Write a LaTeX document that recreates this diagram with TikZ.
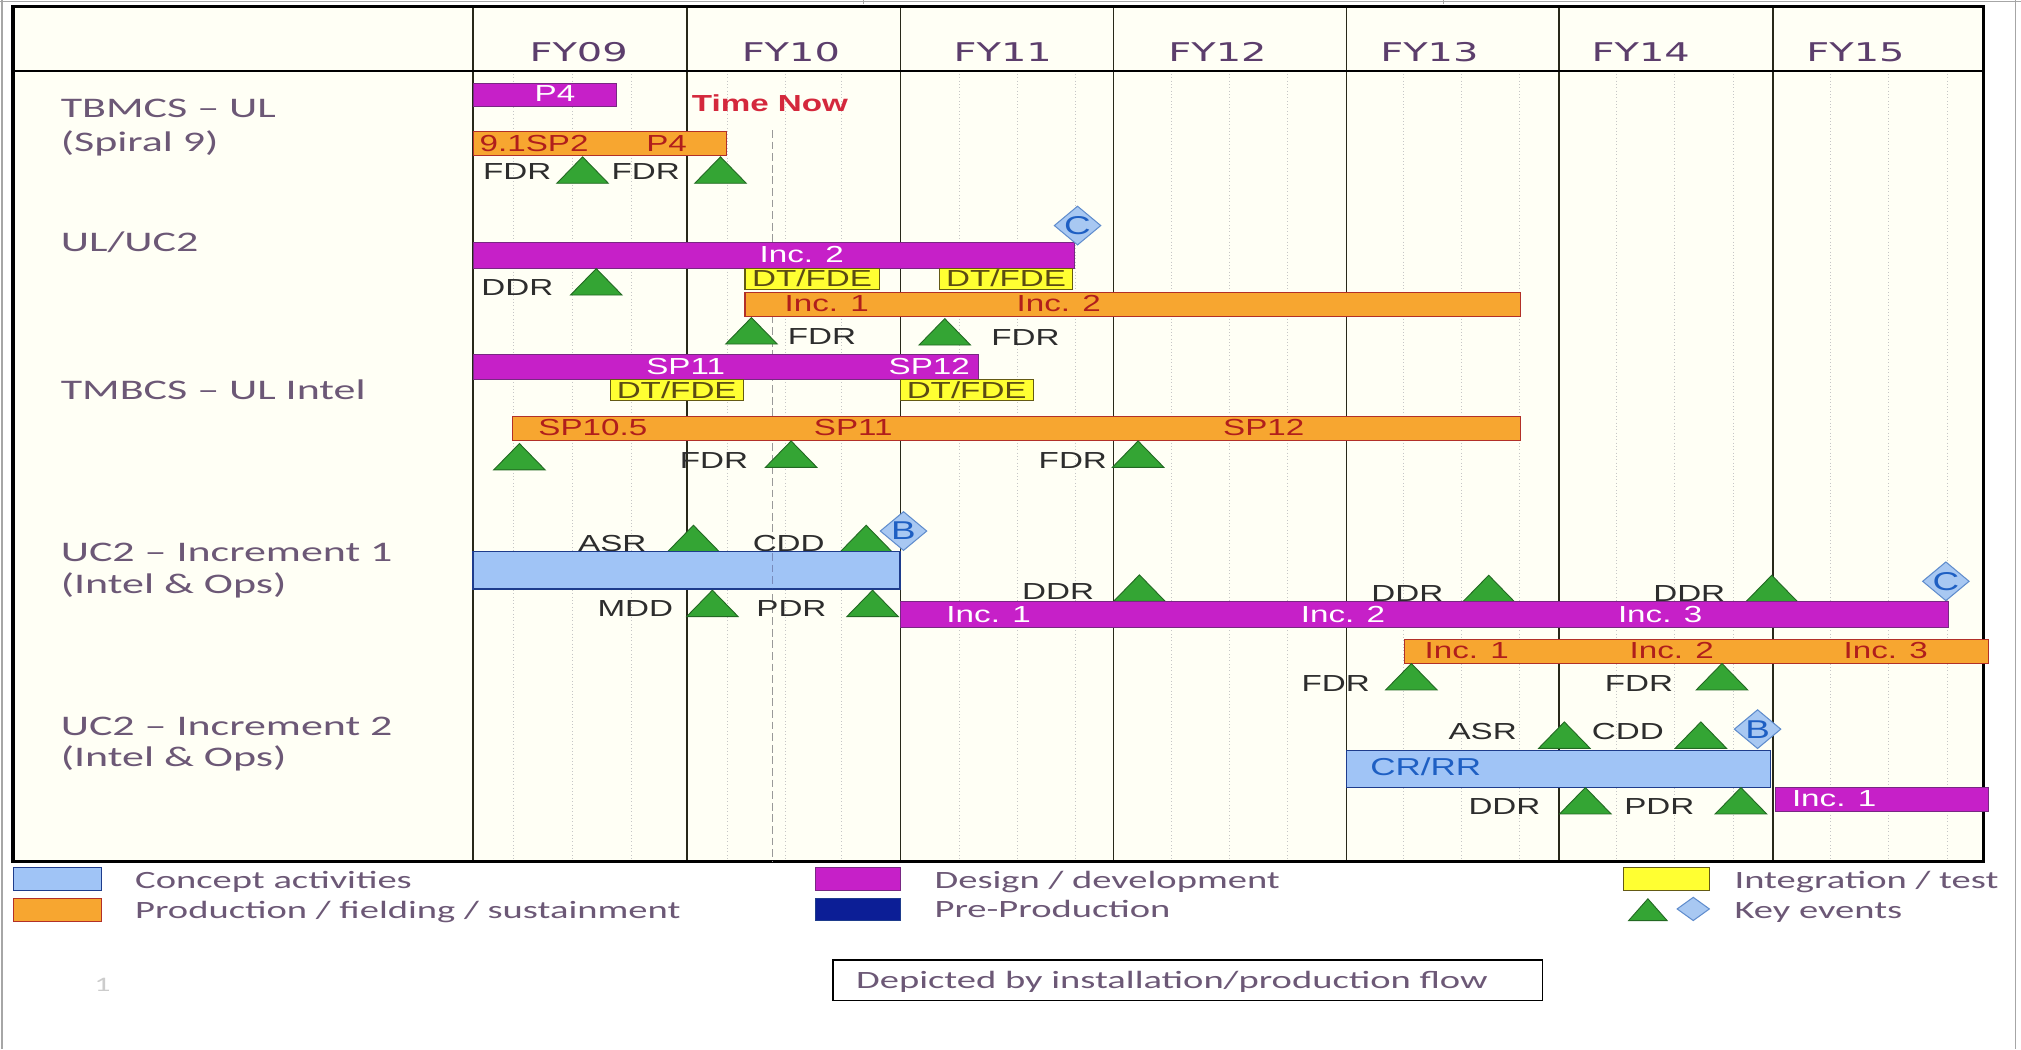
\documentclass[tikz,border=0pt]{standalone}
\usepackage{fontspec}
\setmainfont{Carlito}
\newfontfamily\rowfont{Carlito}[FakeStretch=1.55]
\newfontfamily\barfont{Liberation Sans}[FakeStretch=1.43]
\newfontfamily\yrfont{DejaVu Sans}[FakeStretch=1.55]

\definecolor{chartbg}{RGB}{255,255,245}
\definecolor{rowtxt}{RGB}{108,88,118}
\definecolor{yrtxt}{RGB}{92,62,108}
\definecolor{magfill}{RGB}{198,32,200}
\definecolor{magline}{RGB}{120,40,130}
\definecolor{orgfill}{RGB}{247,166,48}
\definecolor{orgline}{RGB}{178,48,40}
\definecolor{orgtxt}{RGB}{176,30,28}
\definecolor{blufill}{RGB}{160,196,246}
\definecolor{bluline}{RGB}{30,60,140}
\definecolor{ylwfill}{RGB}{255,255,50}
\definecolor{ylwline}{RGB}{100,90,20}
\definecolor{ylwtxt}{RGB}{90,75,20}
\definecolor{navyfill}{RGB}{12,30,150}
\definecolor{trifill}{RGB}{52,165,52}
\definecolor{triline}{RGB}{35,105,35}
\definecolor{diafill}{RGB}{168,200,242}
\definecolor{dialine}{RGB}{95,140,205}
\definecolor{diatxtc}{RGB}{30,95,195}
\definecolor{nowred}{RGB}{212,40,60}
\definecolor{evtxt}{RGB}{45,45,45}
\definecolor{yrline}{RGB}{40,40,25}

% key-event triangle: centre x, base y
\newcommand\ktri[2]{\draw[keytri] (#1,#2) ++(-20,0) -- ++(20,-20.5) -- ++(20,20.5) -- cycle;}
% milestone diamond: node name, centre x, centre y, letter
\newcommand\kdiam[4]{%
  \draw[keydia] (#2,#3) ++(-18,0) -- ++(18,-15) -- ++(18,15) -- ++(-18,15) -- cycle;
  \node[diamlbl] (#1) at (#2,#3) {#4};}
% activity bar: style, x1, y1, x2, y2
\newcommand\gbar[5]{\draw[#1] (#2,#3) rectangle (#4,#5);}

\begin{document}
\begin{tikzpicture}[x=1pt,y=-1pt,
  magbar/.style={fill=magfill,draw=magline,line width=0.8},
  orgbar/.style={fill=orgfill,draw=orgline,line width=0.8},
  ylwbar/.style={fill=ylwfill,draw=ylwline,line width=0.8},
  blubar/.style={fill=blufill,draw=bluline,line width=1},
  navybar/.style={fill=navyfill,draw=bluline,line width=0.8},
  keytri/.style={fill=trifill,draw=triline,line width=0.7},
  keydia/.style={fill=diafill,draw=dialine,line width=0.8},
  diamlbl/.style={text=diatxtc,inner sep=0,font=\barfont\fontsize{20}{20}\selectfont},
  barlbl/.style={anchor=base,inner sep=0,font=\barfont\fontsize{18}{18}\selectfont},
  maglbl/.style={barlbl,text=white},
  orglbl/.style={barlbl,text=orgtxt},
  ylwlbl/.style={barlbl,text=ylwtxt},
  evleft/.style={anchor=base east,inner sep=0,text=evtxt,font=\barfont\fontsize{18}{18}\selectfont},
  evright/.style={anchor=base west,inner sep=0,text=evtxt,font=\barfont\fontsize{18}{18}\selectfont},
  rowlbl/.style={anchor=base west,inner sep=0,text=rowtxt,font=\rowfont\fontsize{22}{22}\selectfont},
  leglbl/.style={anchor=base west,inner sep=0,text=rowtxt,font=\rowfont\fontsize{19.3}{19.3}\selectfont},
  yrlbl/.style={anchor=base,inner sep=0,text=yrtxt,font=\yrfont\fontsize{20}{20}\selectfont},
  nowline/.style={draw=gray!80,line width=1,dash pattern=on 6pt off 3pt},
  monthline/.style={draw=gray!45,line width=0.6,dotted},
  yearline/.style={draw=yrline,line width=1},
  frameline/.style={draw=black,line width=2.5},
  slideline/.style={draw=gray!70,line width=1}]

\useasboundingbox (0,0) rectangle (1568,814);
\fill[white] (0,0) rectangle (1568,814);

% slide edges
\draw[slideline] (0,1) -- (1568,1);
\draw[slideline] (1.5,0) -- (1.5,814);
\draw[slideline] (1563.5,0) -- (1563.5,814);
\draw[slideline] (670,0) -- (670,3);
\draw[slideline] (1120,0) -- (1120,3);

% chart area
\fill[chartbg] (10,5.2) rectangle (1538.6,668.5);
\foreach \mx in {398,444,490,564,609,653,744,789,834,909,954,999,1089,1134,1179,1254,1299,1345,1420,1465,1511}
  \draw[monthline] (\mx,54.8) -- (\mx,668.5);
\foreach \yx in {367,533,698.5,864,1044.5,1209.5,1375.5}
  \draw[yearline] (\yx,5.2) -- (\yx,668.5);
\draw[black,line width=1.5] (10,54.8) -- (1538.6,54.8);
\draw[frameline] (10,5.2) rectangle (1538.6,668.5);

% time-now marker
\coordinate (nowtop) at (599.5,100.9);
\coordinate (nowbot) at (599.5,668);
\draw[nowline] (nowtop) -- (nowbot);

% fiscal years
\node[yrlbl] (fy09) at (449,48) {FY09};
\node[yrlbl] (fy10) at (613.6,48) {FY10};
\node[yrlbl] (fy11) at (778,48) {FY11};
\node[yrlbl] (fy12) at (944.6,48) {FY12};
\node[yrlbl] (fy13) at (1109,48) {FY13};
\node[yrlbl] (fy14) at (1273,48) {FY14};
\node[yrlbl] (fy15) at (1439.6,48) {FY15};

% programme names
\node[rowlbl] (r1a) at (47,91) {TBMCS – UL};
\node[rowlbl] (r1b) at (47,117.7) {(Spiral 9)};
\node[rowlbl] (r2) at (47,195.3) {UL/UC2};
\node[rowlbl] (r3) at (47,310.3) {TMBCS – UL Intel};
\node[rowlbl] (r4a) at (47,435.8) {UC2 – Increment 1};
\node[rowlbl] (r4b) at (47,460.3) {(Intel \& Ops)};
\node[rowlbl] (r5a) at (47,570.3) {UC2 – Increment 2};
\node[rowlbl] (r5b) at (47,594.8) {(Intel \& Ops)};

% ---- TBMCS - UL (Spiral 9)
\gbar{magbar}{367}{64.6}{478.4}{82.8}
\node[maglbl] (t1p4) at (430.6,78.9) {P4};
\node[anchor=base west,inner sep=0,text=nowred,font=\barfont\fontsize{18}{18}\selectfont\bfseries] (tnow) at (536.6,86.6) {Time Now};
\gbar{orgbar}{367.2}{102.2}{563.8}{121}
\node[orglbl] (t1sp) at (414.4,117.7) {9.1SP2};
\node[orglbl] (t1pb) at (517.2,117.7) {P4};
\node[evleft] (t1f1) at (428,139.6) {FDR};
\ktri{452}{142.2}
\node[evleft] (t1f2) at (527.6,139.6) {FDR};
\ktri{559}{142.2}

% ---- UL/UC2
\gbar{magbar}{367}{188.3}{833.4}{208.2}
\node[maglbl] (t2inc) at (622,204) {Inc. 2};
\kdiam{t2c}{836}{175}{C}
\node[evleft] (t2ddr) at (429.5,228.9) {DDR};
\ktri{462.6}{228.9}
\gbar{ylwbar}{578}{208.2}{682}{224.5}
\node[ylwlbl] (t2dt1) at (630,222.5) {DT/FDE};
\gbar{ylwbar}{728.8}{208.2}{832.2}{224.5}
\node[ylwlbl] (t2dt2) at (780.5,222.5) {DT/FDE};
\gbar{orgbar}{578}{227}{1180}{245.7}
\node[orglbl] (t2o1) at (641.5,242) {Inc. 1};
\node[orglbl] (t2o2) at (821.4,242) {Inc. 2};
\ktri{583}{266.9}
\node[evright] (t2f1) at (611,266.9) {FDR};
\ktri{733}{267.7}
\node[evright] (t2f2) at (769,267.7) {FDR};

% ---- TMBCS - UL Intel
\gbar{magbar}{367}{274.7}{759}{294.3}
\node[maglbl] (t3s11) at (532,290.4) {SP11};
\node[maglbl] (t3s12) at (721,290.4) {SP12};
\gbar{ylwbar}{473.3}{294.8}{576.7}{310.9}
\node[ylwlbl] (t3dt1) at (525,308.9) {DT/FDE};
\gbar{ylwbar}{698.3}{294.8}{801.7}{310.9}
\node[ylwlbl] (t3dt2) at (750,308.9) {DT/FDE};
\gbar{orgbar}{397.3}{323.3}{1180}{341.9}
\node[orglbl] (t3o1) at (460,337.5) {SP10.5};
\node[orglbl] (t3o2) at (662,337.5) {SP11};
\node[orglbl] (t3o3) at (980.5,337.5) {SP12};
\ktri{403}{364.6}
\node[evleft] (t3f1) at (580.6,363.4) {FDR};
\ktri{613.8}{362.6}
\node[evleft] (t3f2) at (859,363.4) {FDR};
\ktri{883}{362.6}

% ---- UC2 - Increment 1
\node[evleft] (t4asr) at (501.7,428) {ASR};
\ktri{538}{428}
\node[evleft] (t4cdd) at (640,428) {CDD};
\ktri{672}{428}
\kdiam{t4b}{701}{412}{B}
\gbar{blubar}{367}{428}{698.3}{457}
\draw[nowline,draw=bluline!60] (599.5,429) -- (599.5,456);
\node[evleft] (t4mdd) at (522.4,478.4) {MDD};
\ktri{552.7}{478.4}
\node[evleft] (t4pdr) at (641.4,478.4) {PDR};
\ktri{677}{478.4}
\node[evleft] (t4d1) at (849,465.5) {DDR};
\ktri{884}{466.5}
\node[evleft] (t4d2) at (1120,466.8) {DDR};
\ktri{1155}{466.8}
\node[evleft] (t4d3) at (1338.7,466.8) {DDR};
\ktri{1374.6}{466.8}
\kdiam{t4c}{1509.7}{451}{C}
\gbar{magbar}{698.3}{466.8}{1512}{486.7}
\node[maglbl] (t4m1) at (767,482.7) {Inc. 1};
\node[maglbl] (t4m2) at (1042,482.7) {Inc. 2};
\node[maglbl] (t4m3) at (1288,482.7) {Inc. 3};
\gbar{orgbar}{1089.4}{496}{1542.7}{514.6}
\node[orglbl] (t4o1) at (1138,510.8) {Inc. 1};
\node[orglbl] (t4o2) at (1297,510.8) {Inc. 2};
\node[orglbl] (t4o3) at (1463,510.8) {Inc. 3};
\node[evleft] (t4f1) at (1063,536.6) {FDR};
\ktri{1095}{535.3}
\node[evleft] (t4f2) at (1298.3,536.6) {FDR};
\ktri{1336}{535.3}

% ---- UC2 - Increment 2
\node[evleft] (t5asr) at (1177,574.1) {ASR};
\ktri{1213.7}{580.6}
\node[evleft] (t5cdd) at (1291,574.1) {CDD};
\ktri{1319.6}{580.6}
\kdiam{t5b}{1363.6}{565.7}{B}
\gbar{blubar}{1044.6}{582.4}{1373.6}{610.8}
\node[anchor=base west,inner sep=0,text=diatxtc,font=\barfont\fontsize{19}{19}\selectfont] (t5cr) at (1063,602) {CR/RR};
\node[evleft] (t5ddr) at (1195.3,632.3) {DDR};
\ktri{1230}{631.5}
\node[evleft] (t5pdr) at (1314.8,632.3) {PDR};
\ktri{1350.7}{631.5}
\gbar{magbar}{1377.4}{610.8}{1542.7}{629.7}
\node[maglbl] (t5m1) at (1423,625.7) {Inc. 1};

% ---- legend
\gbar{blubar}{10.3}{673.2}{78.9}{691}
\node[leglbl] (lg1) at (104.7,689.2) {Concept activities};
\gbar{orgbar}{10.3}{697}{78.9}{714.6}
\node[leglbl] (lg2) at (104.7,712.5) {Production / fielding / sustainment};
\gbar{magbar}{632.4}{673}{698.7}{691}
\node[leglbl] (lg3) at (724.9,689.2) {Design / development};
\gbar{navybar}{632.4}{697}{698.7}{714.3}
\node[leglbl] (lg4) at (724.9,711.5) {Pre-Production};
\gbar{ylwbar}{1259.8}{673}{1326.4}{691}
\node[leglbl] (lg5) at (1345.6,689.2) {Integration / test};
\draw[keytri] (1278.5,714.3) ++(-15,0) -- ++(15,-17) -- ++(15,17) -- cycle;
\draw[keydia] (1313.7,705.2) ++(-12.5,0) -- ++(12.5,-9) -- ++(12.5,9) -- ++(-12.5,9) -- cycle;
\node[leglbl] (lg6) at (1345.6,712.5) {Key events};

\node[draw=black,line width=1,minimum width=550.3pt,minimum height=31.6pt,inner sep=0,anchor=north west] (flowbox) at (645.7,744.3) {};
\node[leglbl] (flowtxt) at (664,766.8) {Depicted by installation/production flow};
\node[anchor=base west,inner sep=0,text=gray!40,font=\rowfont\fontsize{16}{16}\selectfont] (pagenum) at (73,769.4) {1};

\end{tikzpicture}
\end{document}
